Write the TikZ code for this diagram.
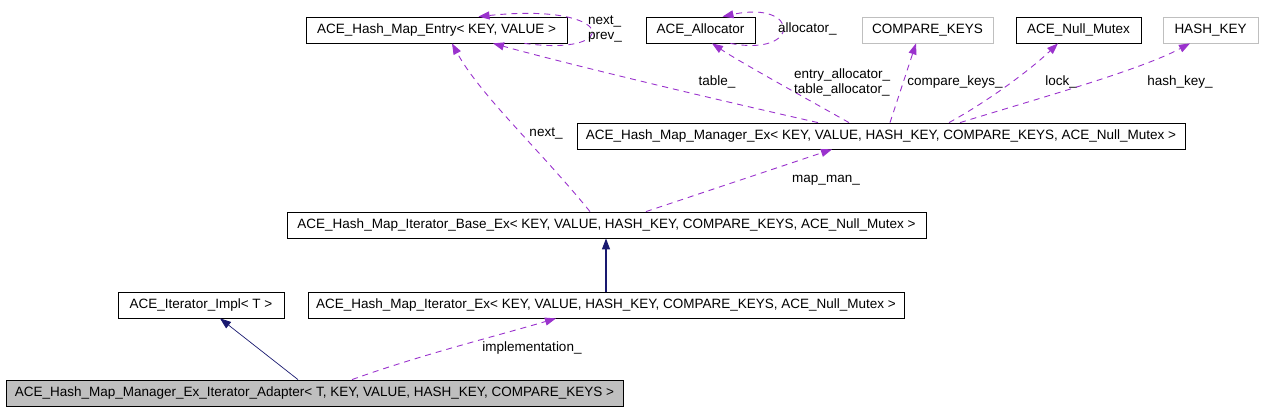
\documentclass[tikz,border=0pt]{standalone}
\usepackage{fontspec}
\setmainfont{Liberation Sans}
\usetikzlibrary{arrows.meta}
\definecolor{orch}{HTML}{9A32CD}
\definecolor{mblue}{HTML}{191970}
\definecolor{gborder}{HTML}{BFBFBF}
\definecolor{gfill}{HTML}{BFBFBF}
\tikzset{
  cls/.style={draw=black, line width=0.8pt, minimum height=26pt, inner sep=0pt, font=\fontsize{13.5}{15}\selectfont},
  ext/.style={cls, draw=gborder},
  lbl/.style={inner sep=0pt, font=\fontsize{13.5}{15}\selectfont, align=left},
  use/.style={draw=orch, line width=0.9pt, dash pattern=on 6pt off 5pt, -{Triangle[length=11pt,width=8pt]}, shorten >=0pt},
  inh/.style={draw=mblue, -{Triangle[length=11pt,width=8pt]}},
}
\begin{document}
\begin{tikzpicture}[x=1pt,y=-1pt]
\useasboundingbox (0,0) rectangle (1279,412);
% nodes
\node[cls, minimum width=261pt] (entry) at (436.5,30) {ACE\_Hash\_Map\_Entry< KEY, VALUE >};
\node[cls, minimum width=109pt] (alloc) at (700.5,30) {ACE\_Allocator};
\node[ext, minimum width=131pt] (cmp) at (927.5,30) {COMPARE\_KEYS};
\node[cls, minimum width=125pt] (mutex) at (1078.5,30) {ACE\_Null\_Mutex};
\node[ext, minimum width=95pt] (hkey) at (1210.5,30) {HASH\_KEY};
\node[cls, minimum width=608pt] (mgr) at (881,136) {ACE\_Hash\_Map\_Manager\_Ex< KEY, VALUE, HASH\_KEY, COMPARE\_KEYS, ACE\_Null\_Mutex >};
\node[cls, minimum width=639pt] (base) at (606.5,225) {ACE\_Hash\_Map\_Iterator\_Base\_Ex< KEY, VALUE, HASH\_KEY, COMPARE\_KEYS, ACE\_Null\_Mutex >};
\node[cls, minimum width=166pt] (impl) at (201,305) {ACE\_Iterator\_Impl< T >};
\node[cls, minimum width=596pt] (itex) at (606,305) {ACE\_Hash\_Map\_Iterator\_Ex< KEY, VALUE, HASH\_KEY, COMPARE\_KEYS, ACE\_Null\_Mutex >};
\node[cls, fill=gfill, minimum width=617pt] (adapt) at (314.5,393) {ACE\_Hash\_Map\_Manager\_Ex\_Iterator\_Adapter< T, KEY, VALUE, HASH\_KEY, COMPARE\_KEYS >};
% self loops
\draw[use] ([xshift=88pt]entry.south) .. controls (622,57) and (618,2) .. ([xshift=42pt]entry.north);
\node[lbl, anchor=west] (lnext) at (588,29.5) {next\_\\prev\_};
\draw[use] ([xshift=30pt]alloc.south) .. controls (802,57) and (800,0) .. ([xshift=22pt]alloc.north);
\node[lbl, anchor=west] (lalloc) at (778,29) {allocator\_};
% manager members
\draw[use] ([xshift=-63pt]mgr.north) .. controls (700,96) and (560,62) .. ([xshift=56.5pt]entry.south);
\node[lbl] (ltable) at (717,82) {table\_};
\draw[use] ([xshift=-32pt]mgr.north) .. controls (800,95) and (740,62) .. ([xshift=11.5pt]alloc.south);
\node[lbl, anchor=west] (lealloc) at (794,82.5) {entry\_allocator\_\\table\_allocator\_};
\draw[use] ([xshift=9pt]mgr.north) -- ([xshift=-11.5pt]cmp.south);
\node[lbl] (lcmp) at (955,82) {compare\_keys\_};
\draw[use] ([xshift=68pt]mgr.north) .. controls (990,100) and (1030,70) .. ([xshift=-20.5pt]mutex.south);
\node[lbl] (llock) at (1061,82) {lock\_};
\draw[use] ([xshift=79pt]mgr.north) .. controls (1040,98) and (1140,70) .. ([xshift=-20.5pt]hkey.south);
\node[lbl] (lhash) at (1180,82) {hash\_key\_};
% base members
\draw[use] ([xshift=-16.5pt]base.north) .. controls (540,150) and (480,95) .. ([xshift=15.5pt]entry.south);
\node[lbl] (lnext2) at (546,133) {next\_};
\draw[use] ([xshift=39.5pt]base.north) -- ([xshift=-49pt]mgr.south);
\node[lbl] (lmap) at (826,180) {map\_man\_};
% inheritance
\draw[inh, line width=1.2pt] (itex.north) -- (itex.north |- base.south);
\draw[inh, line width=0.7pt] ([xshift=-16.5pt]adapt.north) -- ([xshift=19pt]impl.south);
% implementation
\draw[use] ([xshift=37.5pt]adapt.north) .. controls (420,355) and (500,335) .. ([xshift=-50pt]itex.south);
\node[lbl] (limpl) at (532,348) {implementation\_};
\end{tikzpicture}
\end{document}
